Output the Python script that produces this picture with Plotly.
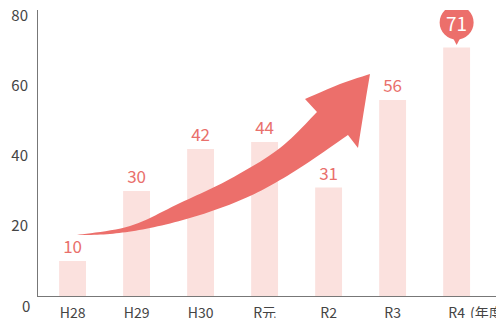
import plotly.graph_objects as go

# ---- data ----
categories = ["H28", "H29", "H30", "R元", "R2", "R3", "R4"]
values = [10, 30, 42, 44, 31, 56, 71]
y_ticks = [20, 40, 60, 80]
unit_label = "(年度)"

FONT = "Noto Sans CJK JP"
BAR = "#fbe1de"
RED = "#ec6f6b"
LABEL = "#e9706c"
GRAY = "#444444"

OFF = 8  # page body margin
W, H = 504 - OFF, 318 - OFF
L, R, T, B = 38 - OFF, 0, 10 - OFF, 22
PW, PH = W - L - R, H - T - B

def to_paper(px, py):
    # px, py in page pixels
    return (px - OFF - L) / PW, (H - B - (py - OFF)) / PH

def catmull(points, n=12):
    out = []
    pts = [points[0]] + points + [points[-1]]
    for i in range(1, len(pts) - 2):
        p0, p1, p2, p3 = pts[i - 1], pts[i], pts[i + 1], pts[i + 2]
        for k in range(n):
            t = k / n
            t2, t3 = t * t, t * t * t
            x = 0.5 * ((2 * p1[0]) + (-p0[0] + p2[0]) * t + (2 * p0[0] - 5 * p1[0] + 4 * p2[0] - p3[0]) * t2 + (-p0[0] + 3 * p1[0] - 3 * p2[0] + p3[0]) * t3)
            y = 0.5 * ((2 * p1[1]) + (-p0[1] + p2[1]) * t + (2 * p0[1] - 5 * p1[1] + 4 * p2[1] - p3[1]) * t2 + (-p0[1] + 3 * p1[1] - 3 * p2[1] + p3[1]) * t3)
            out.append((x, y))
    out.append(points[-1])
    return out

# decorative arrow outline (page pixel space)
upper = [(77, 235), (130, 226), (180, 203), (230, 179), (280, 148), (317, 112)]
head = [(305, 99), (340, 84), (370, 74), (364, 110), (358, 148), (348, 135)]
lower = [(348, 135), (295, 171), (250, 196), (200, 215), (150, 228), (110, 234), (77, 235)]
outline = catmull(upper) + head[:1] + catmull(head[:3], 6)[1:] + catmull(head[2:5], 6)[1:] + head[5:] + catmull(lower)[1:]
path = "M " + " L ".join("%.4f,%.4f" % to_paper(x, y) for x, y in outline) + " Z"

fig = go.Figure()
fig.add_trace(go.Bar(
    x=categories, y=values, width=0.42, marker=dict(color=BAR, line=dict(width=0)),
    text=[str(v) for v in values[:-1]] + [""], textposition="outside",
    textfont=dict(family=FONT, size=17, color=LABEL), constraintext="none",
    cliponaxis=False, hoverinfo="skip",
))

shapes = [
    dict(type="path", xref="paper", yref="paper", path=path, fillcolor=RED,
         line=dict(width=0), layer="above"),
    dict(type="circle", xref="x", yref="y", xsizemode="pixel", ysizemode="pixel",
         xanchor=categories[-1], yanchor=values[-1], x0=-17, x1=17, y0=8, y1=42,
         fillcolor=RED, line=dict(width=0), layer="above"),
    dict(type="path", xref="x", yref="y", xsizemode="pixel", ysizemode="pixel",
         xanchor=categories[-1], yanchor=values[-1], path="M -6,14 L 6,14 L 0,2.5 Z",
         fillcolor=RED, line=dict(width=0), layer="above"),
]

annotations = [
    dict(x=categories[-1], y=values[-1], xref="x", yref="y", text=str(values[-1]),
         showarrow=False, yshift=25, font=dict(family=FONT, size=19, color="white")),
    dict(x=0, y=0, xref="paper", yref="paper", text="0", showarrow=False,
         xanchor="right", yanchor="middle", xshift=-6, yshift=-9,
         font=dict(family=FONT, size=15, color=GRAY)),
    dict(x=to_paper(468, 0)[0], y=0, xref="paper", yref="paper", text=unit_label,
         showarrow=False, xanchor="left", yanchor="middle", yshift=-16,
         font=dict(family=FONT, size=14, color=GRAY)),
]

fig.update_layout(
    width=W, height=H, margin=dict(l=L, r=R, t=T, b=B, autoexpand=False),
    paper_bgcolor="white", plot_bgcolor="white", showlegend=False,
    shapes=shapes, annotations=annotations, bargap=0.58,
    font=dict(family=FONT, color=GRAY),
)
fig.update_xaxes(range=[-0.54, 6.74], showline=True, linecolor="#777777", linewidth=1,
                 showgrid=False, zeroline=False, ticks="", ticklabelstandoff=4, automargin=False,
                 tickfont=dict(family=FONT, size=14, color=GRAY))
fig.update_yaxes(range=[0, PH / 3.5], tickvals=y_ticks, showline=True, linecolor="#777777",
                 linewidth=1, showgrid=False, zeroline=False, ticks="", ticklabelstandoff=6,
                 automargin=False, ticklabeloverflow="allow",
                 tickfont=dict(family=FONT, size=15, color=GRAY))

fig.write_html("out.html")
